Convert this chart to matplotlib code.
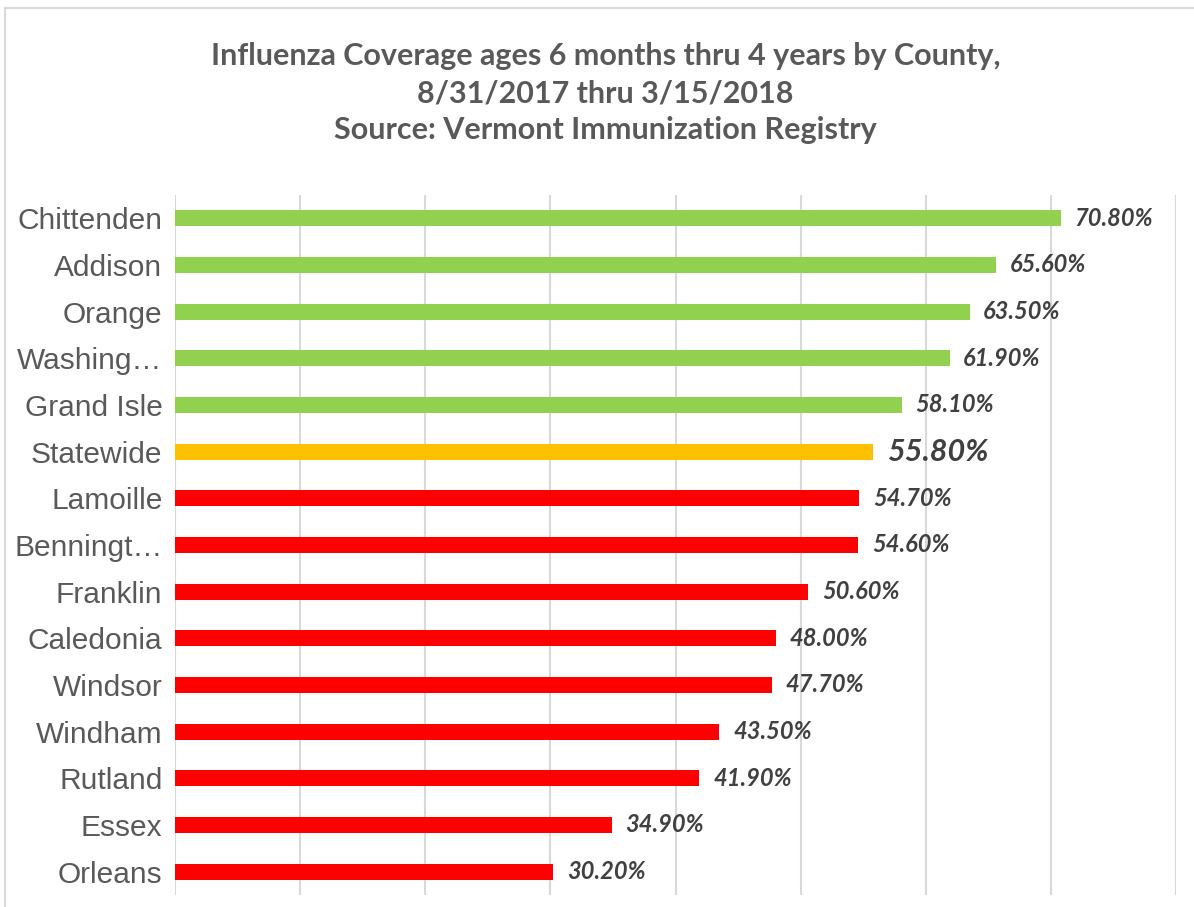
import matplotlib.pyplot as plt
from matplotlib.patches import Rectangle

counties = ["Chittenden", "Addison", "Orange", "Washing\u2026", "Grand Isle",
            "Statewide", "Lamoille", "Benningt\u2026", "Franklin", "Caledonia",
            "Windsor", "Windham", "Rutland", "Essex", "Orleans"]
coverage = [70.8, 65.6, 63.5, 61.9, 58.1, 55.8, 54.7, 54.6, 50.6, 48.0,
            47.7, 43.5, 41.9, 34.9, 30.2]
statewide = 55.8

green = "#92D050"
orange = "#FFC000"
red = "#FF0000"
colors = []
for c, v in zip(counties, coverage):
    if c == "Statewide":
        colors.append(orange)
    elif v > statewide:
        colors.append(green)
    else:
        colors.append(red)

fig = plt.figure(figsize=(11.94, 9.07), dpi=100)
fig.patches.append(Rectangle((5 / 1194, -0.05), 1.1, 1.05 - 8 / 907,
                             transform=fig.transFigure, fill=False,
                             edgecolor="#D9D9D9", linewidth=1.5))

ax = fig.add_axes([175 / 1194, 1 - 895 / 907, (1176 - 175) / 1194, (895 - 195) / 907])
y = range(len(counties))
ax.barh(y, coverage, height=0.34, color=colors, zorder=3)
ax.set_xlim(0, 80)
ax.set_ylim(len(counties) - 0.5, -0.5)
ax.set_xticks(range(0, 81, 10))
ax.set_xticklabels([])
ax.grid(axis="x", color="#D9D9D9", linewidth=1.5, zorder=0)
ax.tick_params(length=0)
ax.set_yticks(list(y))
ax.set_yticklabels(counties, fontsize=21.5, color="#595959", family="Liberation Sans")
ax.tick_params(axis="y", pad=9)
for s in ax.spines.values():
    s.set_visible(False)

for i, (c, v) in enumerate(zip(counties, coverage)):
    big = c == "Statewide"
    ax.text(v + 1.1, i, f"{v:.2f}%", va="center", ha="left",
            fontsize=22 if big else 17, fontweight="bold", fontstyle="italic",
            color="#404040", family="Lato")

title = ("Influenza Coverage ages 6 months thru 4 years by County,\n"
         "8/31/2017 thru 3/15/2018\n"
         "Source: Vermont Immunization Registry")
fig.text(0.507, 1 - 93 / 907, title, ha="center", va="center", fontsize=22,
         fontweight="bold", color="#595959", family="Lato",
         linespacing=1.41)

fig.savefig("out.png", dpi=100)
